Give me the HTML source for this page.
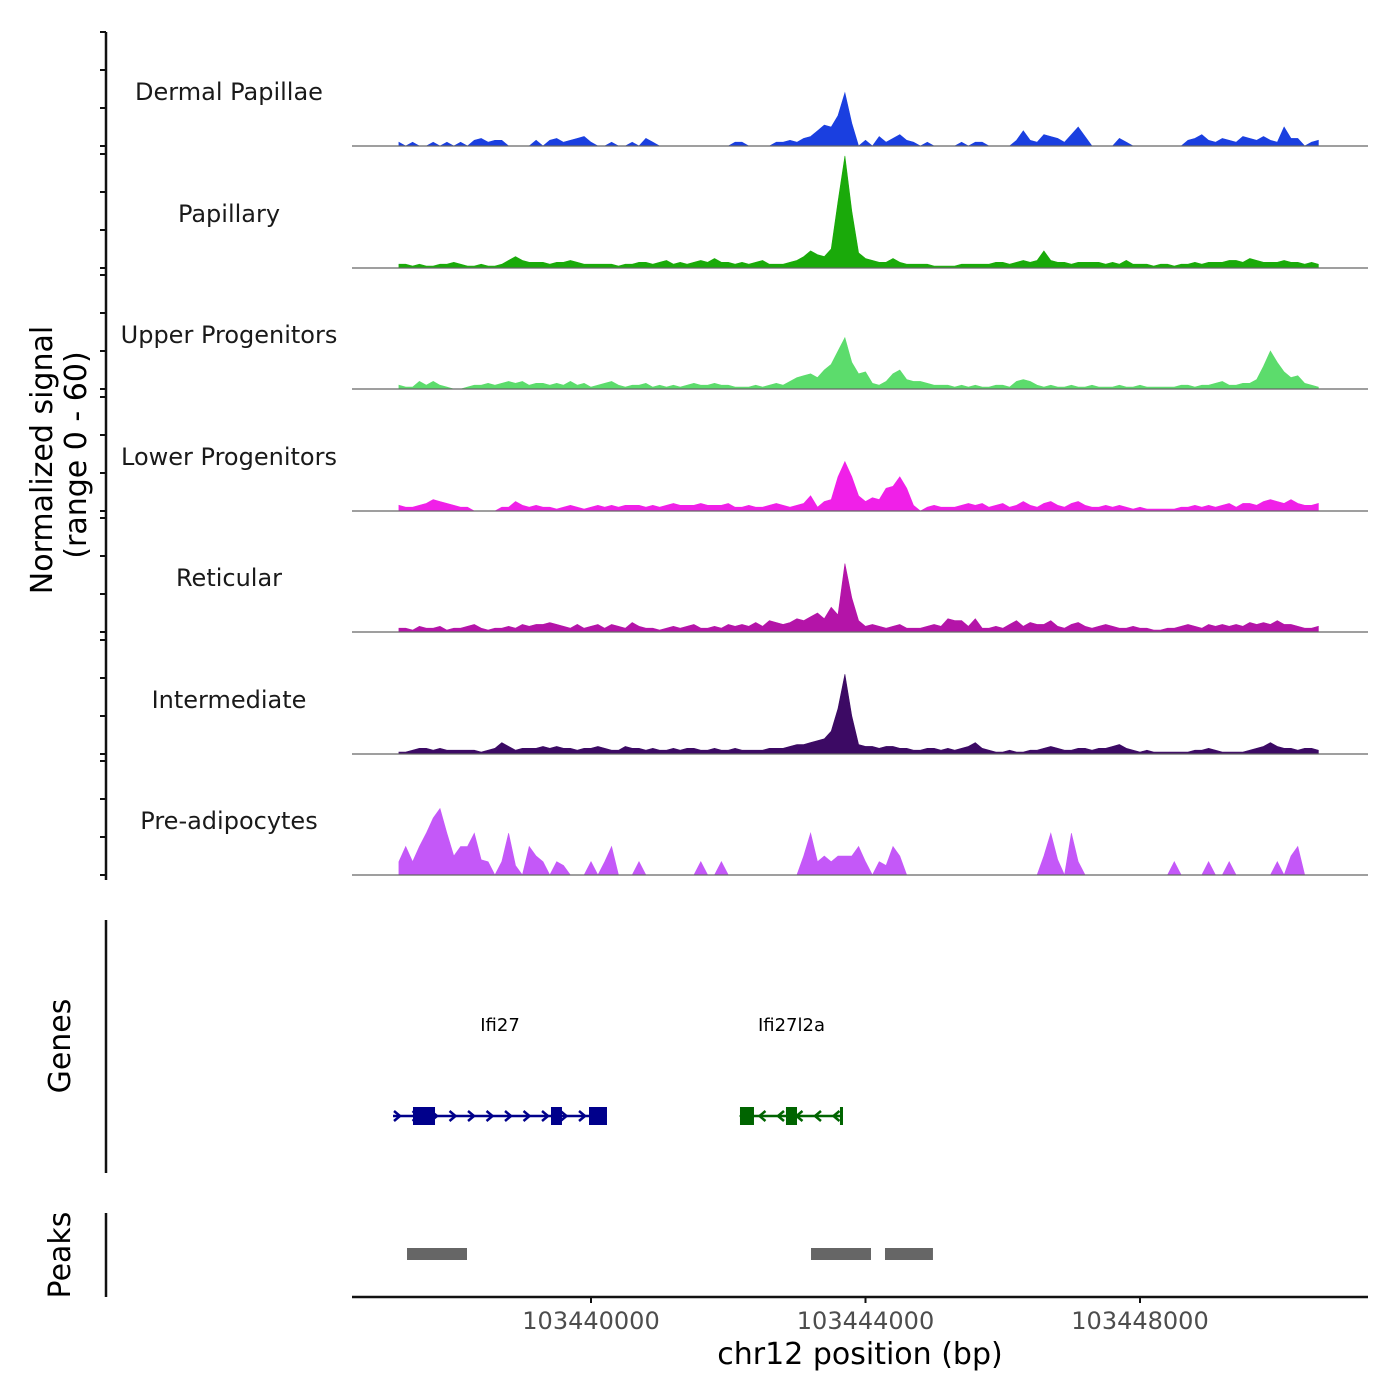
<!DOCTYPE html>
<html><head><meta charset="utf-8">
<style>
html,body{margin:0;padding:0;background:#fff;}
svg{display:block;font-family:"DejaVu Sans","Liberation Sans",sans-serif;}
</style></head>
<body>
<svg id="chart" width="1400" height="1400" viewBox="0 0 1400 1400" xmlns="http://www.w3.org/2000/svg">
<g id="tracks"></g>
<g id="genes"></g>
<g id="peaks"></g>
<g id="axes"></g>
<text transform="translate(52,460) rotate(-90)" text-anchor="middle" font-size="30" fill="#000">Normalized signal</text>
<text transform="translate(86,455) rotate(-90)" text-anchor="middle" font-size="30" fill="#000">(range 0 - 60)</text>
<text transform="translate(70,1046) rotate(-90)" text-anchor="middle" font-size="30" fill="#000">Genes</text>
<text transform="translate(70,1255) rotate(-90)" text-anchor="middle" font-size="30" fill="#000">Peaks</text>
<text x="860" y="1364" text-anchor="middle" font-size="30" fill="#000">chr12 position (bp)</text>
</svg>
<script>
const binStart = 103437200;
const binSize = 100;
const trackNames = ["Dermal Papillae","Papillary","Upper Progenitors","Lower Progenitors","Reticular","Intermediate","Pre-adipocytes"];
const trackColors = ["#1a3fe0","#1aaa0a","#5cdc6c","#f020e8","#b414a8","#3c0a64","#c458f8"];
const dermalVals = [2,0,2,0,0,2,0,2,0,2, 0,3,4,2,3,3,0,0,0,0, 3,0,3,4,2,3,4,5,2,0, 0,2,0,0,2,0,4,2,0,0, 0,0,0,0,0,0,0,0,0,2, 2,0,0,0,0,2,2,3,2,4, 5,8,11,10,16,28,12,0,3,0, 5,2,4,6,3,2,0,2,0,0, 0,0,2,0,2,2,0,0,0,0, 3,8,3,2,6,5,4,2,6,10, 5,0,0,0,0,4,2,0,0,0, 0,0,0,0,0,3,4,6,3,2, 4,3,2,5,4,3,5,3,2,10, 4,4,0,2,3];
const papillaryVals = [2,2,1,2,1,1,2,2,3,2, 1,1,2,1,1,2,4,6,4,3, 3,3,2,3,3,4,3,2,2,2, 2,2,1,2,2,3,3,2,3,4, 2,3,2,3,4,3,5,3,3,2, 3,2,3,4,2,2,2,3,4,6, 9,7,6,10,35,59,30,8,5,4, 3,3,5,3,2,2,2,2,1,1, 1,1,2,2,2,2,2,3,3,2, 3,4,3,4,9,4,3,3,2,3, 3,3,3,2,3,2,4,2,2,2, 1,2,2,1,2,2,3,2,3,3, 3,4,4,3,5,4,3,3,3,4, 3,3,2,3,2];
const upperVals = [2,1,1,4,2,4,2,1,0,0, 1,2,2,3,2,3,4,3,4,2, 3,3,2,3,2,4,2,3,1,2, 3,4,2,1,2,2,3,1,2,1, 2,1,2,3,2,2,3,2,2,1, 1,1,2,1,2,3,2,4,6,7, 8,6,10,13,20,27,14,8,9,3, 2,4,8,10,5,4,4,3,2,2, 2,1,2,1,2,1,1,2,2,1, 4,5,4,2,1,2,1,1,2,1, 1,2,1,1,1,2,1,1,2,1, 1,1,1,1,2,2,1,2,2,3, 4,2,2,3,3,5,12,20,14,9, 6,7,3,2,1];
const lowerVals = [3,2,2,3,4,6,5,4,3,2, 2,0,0,0,0,2,2,5,3,2, 3,2,2,1,2,3,2,1,2,3, 2,3,2,3,3,3,2,3,2,3, 4,3,3,3,4,3,3,3,4,2, 2,3,2,2,3,4,3,2,3,4, 8,2,5,6,18,26,18,8,5,7, 6,12,13,18,12,3,0,2,3,2, 2,2,3,4,3,4,2,3,4,2, 3,5,3,2,4,5,3,2,4,5, 3,2,2,3,2,3,2,1,2,1, 1,1,1,1,2,2,3,2,3,2, 3,4,2,4,4,3,5,6,5,4, 6,4,3,3,4];
const reticularVals = [2,2,1,3,2,2,3,1,2,2, 3,4,2,1,2,2,3,2,4,3, 4,4,5,4,3,2,4,2,3,4, 2,4,3,2,5,3,2,2,1,2, 3,2,3,4,2,2,3,2,4,3, 4,3,5,3,6,5,4,5,7,6, 8,10,7,13,9,36,18,6,3,4, 3,2,3,4,2,2,2,3,4,3, 7,6,6,3,7,2,2,3,2,4, 6,3,5,4,4,6,3,2,4,5, 3,2,3,4,3,2,2,3,2,2, 1,1,2,2,3,4,3,2,4,3, 4,3,4,3,5,4,5,4,6,4, 4,3,2,2,3];
const intermediateVals = [1,1,2,3,3,2,3,2,2,2, 2,2,1,2,3,6,4,2,3,3, 3,4,3,4,3,3,2,3,3,4, 3,2,2,4,3,3,2,3,2,2, 3,2,3,3,2,2,3,2,2,3, 2,2,2,2,3,3,3,4,5,5, 6,7,8,12,24,42,20,5,4,4, 3,4,4,3,3,2,2,3,3,2, 3,2,3,4,6,3,2,1,1,2, 1,1,2,2,3,4,3,2,2,3, 3,2,3,3,4,5,3,2,1,2, 1,1,1,1,1,1,2,2,3,2, 1,1,1,1,2,3,4,6,4,3, 3,2,3,3,2];
const preadipoVals = [7,15,7,15,22,30,35,22,10,15, 15,22,8,7,0,7,22,5,0,15, 10,7,0,7,5,0,0,0,7,0, 7,15,0,0,0,7,0,0,0,0, 0,0,0,0,7,0,0,7,0,0, 0,0,0,0,0,0,0,0,0,10, 22,7,10,7,10,10,10,15,7,0, 7,5,15,10,0,0,0,0,0,0, 0,0,0,0,0,0,0,0,0,0, 0,0,0,0,10,22,8,0,22,7, 0,0,0,0,0,0,0,0,0,0, 0,0,0,7,0,0,0,0,7,0, 0,7,0,0,0,0,0,0,7,0, 10,15,0,0,0];
const yTicks = [0,20,40,60];
const xTickValues = [103440000,103444000,103448000];
const xTickLabels = ["103440000","103444000","103448000"];
const geneNames = ["Ifi27","Ifi27l2a"];
const geneStarts = [103437115,103442171];
const geneEnds = [103440233,103443672];
const geneStrands = ["+","-"];
const geneColors = ["#00008b","#006400"];
const exonGene = [0,0,0,1,1,1];
const exonStarts = [103437406,103439417,103439971,103442171,103442841,103443628];
const exonEnds = [103437727,103439577,103440233,103442375,103443002,103443672];
const peakStarts = [103437319,103443206,103444284];
const peakEnds = [103438193,103444080,103444983];

const allVals = [dermalVals,papillaryVals,upperVals,lowerVals,reticularVals,intermediateVals,preadipoVals];
const NS = "http://www.w3.org/2000/svg";
const X0 = 352, X1 = 1368;
function xScale(bp){ return 591 + (bp - 103440000) * 0.068625; }
const baselines = [146,268,389,511,632,754,875];
function yScale(t, v){ return baselines[t] - v * 1.9; }
function mk(tag, attrs, parent){ const e = document.createElementNS(NS, tag); for (const k in attrs) e.setAttribute(k, attrs[k]); parent.appendChild(e); return e; }

const tracksG = document.getElementById('tracks');
const axesG = document.getElementById('axes');
allVals.forEach((vals, t) => {
  const g = mk('g', {}, tracksG);
  
  
  let d = 'M' + xScale(binStart).toFixed(1) + ',' + baselines[t];
  vals.forEach((v, i) => { d += ' L' + xScale(binStart + i * binSize).toFixed(1) + ',' + yScale(t, v).toFixed(1); });
  d += ' L' + xScale(binStart + (vals.length - 1) * binSize).toFixed(1) + ',' + baselines[t] + ' Z';
  const p = mk('path', {d: d, fill: trackColors[t], stroke: trackColors[t], 'stroke-width': 0.6}, g);
  
  
  const bl = mk('line', {x1: X0, x2: X1, y1: baselines[t], y2: baselines[t], stroke: '#666', 'stroke-width': 1.2}, g);
  
  
  const lab = mk('text', {x: 229, y: baselines[t] - 46, 'text-anchor': 'middle', 'font-size': 24, fill: '#1a1a1a'}, g);
  lab.textContent = trackNames[t];
  
  
  yTicks.forEach(tv => {
    const tk = mk('line', {x1: 100, x2: 106, y1: yScale(t, tv), y2: yScale(t, tv), stroke: '#111', 'stroke-width': 2}, axesG);
    
    
  });
});
[[32,880],[920,1173],[1213,1297]].forEach(r => {
  const l = mk('line', {x1: 106, x2: 106, y1: r[0], y2: r[1], stroke: '#111', 'stroke-width': 2.5}, axesG);
  
  
});
const xa = mk('line', {x1: X0, x2: X1, y1: 1297, y2: 1297, stroke: '#111', 'stroke-width': 2.5}, axesG);


xTickValues.forEach((v, i) => {
  const tk = mk('line', {x1: xScale(v), x2: xScale(v), y1: 1297, y2: 1303, stroke: '#111', 'stroke-width': 2}, axesG);
  
  
  const tl = mk('text', {x: xScale(v), y: 1329, 'text-anchor': 'middle', 'font-size': 24, fill: '#4d4d4d'}, axesG);
  tl.textContent = xTickLabels[i];
  
  
});
const genesG = document.getElementById('genes');
const GY = 1116;
geneNames.forEach((n, gi) => {
  const g = mk('g', {}, genesG);
  
  
  const x1 = xScale(geneStarts[gi]), x2 = xScale(geneEnds[gi]), c = geneColors[gi];
  const ln = mk('line', {x1: x1, x2: x2, y1: GY, y2: GY, stroke: c, 'stroke-width': 2.5}, g);
  
  
  for (let x = x1 + 4; x < x2 - 4; x += 18.5) {
    const dir = geneStrands[gi] === '+' ? 1 : -1;
    const ch = mk('path', {d: 'M' + (x - 3 * dir) + ',' + (GY - 5) + ' L' + (x + 3 * dir) + ',' + GY + ' L' + (x - 3 * dir) + ',' + (GY + 5), fill: 'none', stroke: c, 'stroke-width': 2.5}, g);
    
    
  }
  const lab = mk('text', {x: (x1 + x2) / 2, y: 1031, 'text-anchor': 'middle', 'font-size': 18, fill: '#000'}, g);
  lab.textContent = n;
  
  
});
exonStarts.forEach((s, i) => {
  const x1 = xScale(s), x2 = xScale(exonEnds[i]);
  const r = mk('rect', {x: x1, y: GY - 9, width: Math.max(x2 - x1, 2.5), height: 18, fill: geneColors[exonGene[i]]}, genesG);
  
  
});
const peaksG = document.getElementById('peaks');
peakStarts.forEach((s, i) => {
  const r = mk('rect', {x: xScale(s), y: 1248, width: xScale(peakEnds[i]) - xScale(s), height: 12, fill: '#666666'}, peaksG);
  
  
});
</script>
</body></html>
